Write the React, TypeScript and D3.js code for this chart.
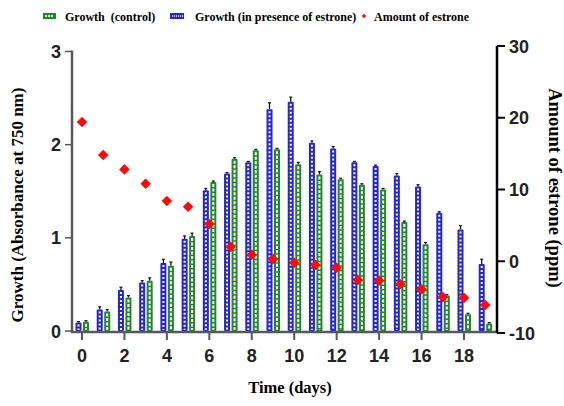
import React from "react";
import * as d3 from "d3";

const days = d3.range(0, 20);
const xTicks = [0, 2, 4, 6, 8, 10, 12, 14, 16, 18];
const leftTicks = [0, 1, 2, 3];
const rightTicks = [-10, 0, 10, 20, 30];
const growthEstrone = [0.09, 0.23, 0.44, 0.52, 0.73, 0.99, 1.51, 1.69, 1.81, 2.38, 2.46, 2.02, 1.96, 1.81, 1.77, 1.67, 1.55, 1.27, 1.09, 0.72];
const errEstrone = [0.01, 0.03, 0.03, 0.02, 0.04, 0.03, 0.02, 0.01, 0.01, 0.07, 0.05, 0.02, 0.02, 0.01, 0.01, 0.02, 0.02, 0.01, 0.04, 0.05];
const growthControl = [0.10, 0.21, 0.36, 0.54, 0.70, 1.02, 1.60, 1.85, 1.94, 1.95, 1.79, 1.68, 1.63, 1.57, 1.52, 1.17, 0.93, 0.38, 0.18, 0.08];
const errControl = [0.01, 0.02, 0.02, 0.03, 0.04, 0.03, 0.01, 0.01, 0.01, 0.01, 0.02, 0.03, 0.01, 0.01, 0.01, 0.01, 0.02, 0.01, 0.01, 0.01];
const estrone = [19.4, 14.8, 12.8, 10.8, 8.4, 7.6, 5.2, 2.0, 0.9, 0.3, -0.2, -0.5, -0.9, -2.6, -2.7, -3.2, -3.9, -5.0, -5.1, -6.1];

const BLUE = "#2424d8";
const GREEN = "#22862a";
const RED = "#ff0a0a";
const GRAY = "#595959";
const SERIF = "'Liberation Serif', 'Times New Roman', serif";
const SANS = "'Liberation Sans', Arial, sans-serif";

export default function App() {
  const x = d3.scaleLinear().domain([0, 18]).range([82, 464]);
  const yL = d3.scaleLinear().domain([0, 3]).range([331, 51.5]);
  const yR = d3.scaleLinear().domain([-10, 30]).range([333, 46]);
  const bw = 6;
  const diamond = d3.symbol().type(d3.symbolSquare).size(56)();

  const bar = (cx: number, v: number, e: number, color: string, dash: string, key: string) => {
    const top = yL(v);
    const bottom = yL(0);
    return (
      <g key={key}>
        <line x1={cx} x2={cx} y1={top} y2={yL(v + e)} stroke="#111" strokeWidth={1.3} />
        <line x1={cx - 1.5} x2={cx + 1.5} y1={yL(v + e)} y2={yL(v + e)} stroke="#111" strokeWidth={1.2} />
        <rect x={cx - bw / 2} y={top} width={bw} height={bottom - top} fill={color} rx={1} />
        <line x1={cx} x2={cx} y1={top + 2} y2={bottom - 1} stroke="#fff" strokeWidth={2} strokeDasharray={dash} />
      </g>
    );
  };

  return (
    <svg width={564} height={406} style={{ position: "absolute", left: 0, top: 0, background: "#fff" }}>
      {/* legend */}
      <g>
        <rect x={43} y={13} width={13} height={6} fill={GREEN} />
        <line x1={45} x2={54} y1={16} y2={16} stroke="#cfe8cf" strokeWidth={2} strokeDasharray="2,1" />
        <text x={65} y={20.5} fontFamily={SERIF} fontWeight="bold" fontSize={12} style={{ whiteSpace: "pre" }}>Growth  (control)</text>
        <rect x={170} y={13} width={14} height={6} fill={BLUE} />
        <line x1={172} x2={183} y1={16} y2={16} stroke="#c8c8ff" strokeWidth={2} strokeDasharray="1,1" />
        <text x={195} y={20.5} fontFamily={SERIF} fontWeight="bold" fontSize={12}>Growth (in presence of estrone)</text>
        <path d={d3.symbol().type(d3.symbolSquare).size(10)()!} transform="translate(364,16) rotate(45)" fill={RED} />
        <text x={374} y={20.5} fontFamily={SERIF} fontWeight="bold" fontSize={12}>Amount of estrone</text>
      </g>

      {/* bars */}
      {days.map((d) => bar(x(d) - 3.5, growthEstrone[d], errEstrone[d], BLUE, "2,2", "b" + d))}
      {days.map((d) => bar(x(d) + 4, growthControl[d], errControl[d], GREEN, "3,1.5", "g" + d))}

      {/* estrone diamonds */}
      {days.map((d) => (
        <path key={"e" + d} d={diamond!} transform={`translate(${x(d)},${yR(estrone[d])}) rotate(45)`} fill={RED} />
      ))}

      {/* left axis */}
      <line x1={72} x2={72} y1={yL(3) - 1} y2={333} stroke={GRAY} strokeWidth={2.5} />
      {leftTicks.map((t) => (
        <g key={"l" + t}>
          <line x1={65} x2={72} y1={yL(t)} y2={yL(t)} stroke={GRAY} strokeWidth={1.5} />
          <text x={61} y={yL(t) + 6.5} textAnchor="end" fontFamily={SANS} fontWeight="bold" fontSize={18} fill="#222">{t}</text>
        </g>
      ))}

      {/* x axis */}
      <line x1={71} x2={497} y1={332} y2={332} stroke={GRAY} strokeWidth={2.5} />
      {xTicks.map((t) => (
        <g key={"x" + t}>
          <line x1={x(t)} x2={x(t)} y1={332} y2={340} stroke={GRAY} strokeWidth={2} />
          <text x={x(t)} y={362} textAnchor="middle" fontFamily={SANS} fontWeight="bold" fontSize={18} fill="#222">{t}</text>
        </g>
      ))}

      {/* right axis */}
      <line x1={497} x2={497} y1={yR(30)} y2={yR(-10)} stroke="#000" strokeWidth={2.5} />
      {rightTicks.map((t) => (
        <g key={"r" + t}>
          <line x1={497} x2={505} y1={yR(t)} y2={yR(t)} stroke="#000" strokeWidth={2} />
          <text x={509} y={yR(t) + 6.5} textAnchor="start" fontFamily={SANS} fontWeight="bold" fontSize={18} fill="#222">{t}</text>
        </g>
      ))}

      {/* titles */}
      <text transform="translate(23,205) rotate(-90)" textAnchor="middle" fontFamily={SERIF} fontWeight="bold" fontSize={17}>Growth (Absorbance at 750 nm)</text>
      <text transform="translate(549,188) rotate(90)" textAnchor="middle" fontFamily={SERIF} fontWeight="bold" fontSize={18.5}>Amount of estrone (ppm)</text>
      <text x={290} y={393} textAnchor="middle" fontFamily={SERIF} fontWeight="bold" fontSize={16.5}>Time (days)</text>
    </svg>
  );
}
